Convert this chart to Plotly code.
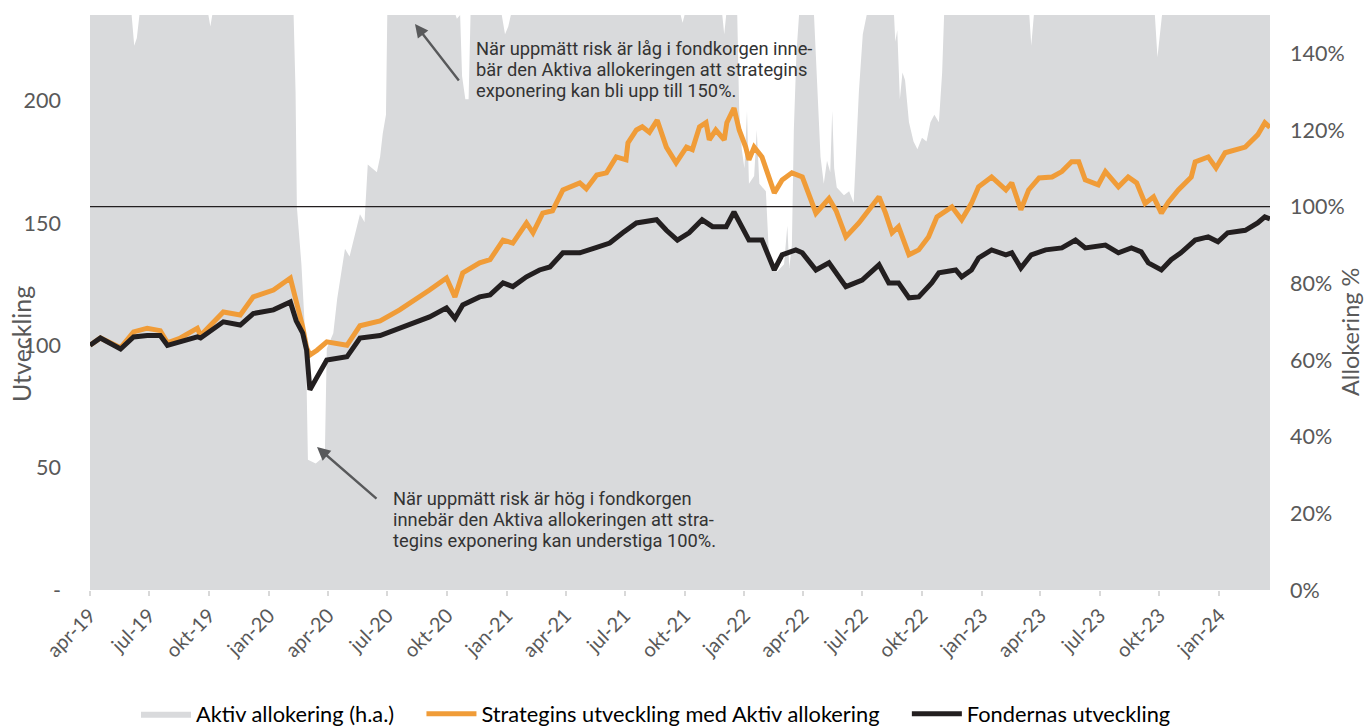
import plotly.graph_objects as go

# ---------------- DATA ----------------
strat_dates = ["2019-04-01","2019-04-17","2019-05-18","2019-06-07","2019-06-28","2019-07-18","2019-07-29","2019-08-18",
"2019-09-13","2019-09-18","2019-10-23","2019-11-18","2019-12-08","2020-01-08","2020-02-03","2020-02-12","2020-02-22",
"2020-02-28","2020-03-04","2020-03-15","2020-03-30","2020-04-30","2020-05-20","2020-06-20","2020-07-20","2020-09-04",
"2020-09-30","2020-10-13","2020-10-25","2020-11-20","2020-12-06","2020-12-26","2021-01-10","2021-01-31","2021-02-10",
"2021-02-25","2021-03-12","2021-03-28","2021-04-23","2021-05-03","2021-05-19","2021-06-03","2021-06-18","2021-07-03",
"2021-07-06","2021-07-19","2021-07-28","2021-08-08","2021-08-20","2021-09-03","2021-09-18","2021-10-04","2021-10-13",
"2021-10-24","2021-11-03","2021-11-08","2021-11-18","2021-12-01","2021-12-05","2021-12-16","2021-12-24","2022-01-03",
"2022-01-08","2022-01-16","2022-01-28","2022-02-16","2022-02-28","2022-03-15","2022-03-31","2022-04-21","2022-05-11",
"2022-05-22","2022-06-06","2022-06-26","2022-07-27","2022-08-06","2022-08-16","2022-08-26","2022-09-11","2022-09-26",
"2022-10-11","2022-10-24","2022-11-16","2022-12-01","2022-12-16","2022-12-27","2023-01-16","2023-02-07","2023-02-16",
"2023-03-02","2023-03-14","2023-03-30","2023-04-19","2023-05-04","2023-05-19","2023-05-30","2023-06-09","2023-06-29",
"2023-07-10","2023-07-30","2023-08-14","2023-08-27","2023-09-09","2023-09-22","2023-10-04","2023-10-15","2023-10-30",
"2023-11-19","2023-11-25","2023-12-15","2023-12-27","2024-01-10","2024-02-10","2024-02-29","2024-03-11","2024-03-19"]
strat_values = [100,103,99,105.5,107,106,101,103,
107,104,113.6,112.4,119.8,122.6,127.5,118.5,107.5,
99,96,98,101.4,100,108,110,114.5,122.6,
127.5,119.8,129.6,133.7,135,143,141.8,150,146,
154,155,163.5,166.4,164,169.6,170.5,177,175.8,
182.7,188,189.3,187,192,181,174.6,181,180,
189.3,191,184,188,184,191,197,188,181,
175.8,181,177,162.3,167.6,170.5,168.8,154,160,
155,144.3,150,160.7,154,146,148.5,137,139,
144.3,152.5,156.6,151.3,158,164.8,168.8,163.5,166.4,
155.4,163.5,168.4,168.8,171,175,175,167.6,165.6,
171,164.8,168.8,166.4,158,160.7,154,158.6,163.5,
168.8,175,177,172.5,178.7,181,186,191,189]

fund_dates = ["2019-04-01","2019-04-17","2019-05-18","2019-06-07","2019-06-28","2019-07-18","2019-07-29","2019-08-18",
"2019-09-13","2019-09-18","2019-10-23","2019-11-18","2019-12-08","2020-01-08","2020-02-03","2020-02-12","2020-02-22",
"2020-02-28","2020-03-04","2020-03-15","2020-03-30","2020-04-30","2020-05-20","2020-06-20","2020-07-20","2020-09-04",
"2020-09-30","2020-10-13","2020-10-25","2020-11-20","2020-12-06","2020-12-26","2021-01-10","2021-01-31","2021-02-20",
"2021-03-08","2021-03-28","2021-04-23","2021-05-19","2021-06-08","2021-06-28","2021-07-19","2021-08-19","2021-09-03",
"2021-09-20","2021-10-08","2021-10-28","2021-11-13","2021-12-04","2021-12-16","2021-12-28","2022-01-08","2022-01-28",
"2022-02-09","2022-02-16","2022-02-28","2022-03-21","2022-03-31","2022-04-21","2022-05-11","2022-06-06","2022-07-01",
"2022-07-27","2022-08-11","2022-08-26","2022-09-11","2022-09-26","2022-10-16","2022-10-27","2022-11-22","2022-12-01",
"2022-12-16","2022-12-27","2023-01-16","2023-02-07","2023-02-16","2023-03-02","2023-03-18","2023-04-09","2023-05-04",
"2023-05-25","2023-06-09","2023-07-10","2023-07-30","2023-08-19","2023-09-03","2023-09-14","2023-10-04","2023-10-19",
"2023-11-03","2023-11-25","2023-12-15","2023-12-30","2024-01-14","2024-02-10","2024-02-29","2024-03-11","2024-03-19"]
fund_values = [100,103,98.5,103.4,104,104,100,101.4,
103.5,103,109.6,108.3,113,114.5,117.7,110,105,
98,81.8,87,94,95.3,103,104,107,111.6,
115.3,111,116.5,119.8,120.6,125.5,124,128,130.8,
132,137.8,137.8,140,141.8,146,150,151.3,147,
143,146,151.3,148.5,148.5,154.5,148.5,143,143,
136,130.8,137,139,137.8,130.8,133.7,124,126.7,
132.9,125.5,125.5,119.4,119.8,125.5,129.6,130.8,128,
130.8,135.7,139,137,137.8,131.6,137,139,139.8,
143,139.8,141,137.8,139.8,138.2,133.7,130.8,135,
137.8,143,144.3,142.3,146,147,150,152.5,151.7]

alloc_dates = ["2019-04-01","2019-06-04","2019-06-08","2019-06-12","2019-06-16","2019-09-30","2019-10-03","2019-10-06",
"2020-02-08","2020-02-11","2020-02-13","2020-02-20","2020-02-27","2020-03-01","2020-03-13","2020-03-27","2020-03-30",
"2020-04-09","2020-04-15","2020-04-27","2020-05-04","2020-05-20","2020-05-27","2020-06-01","2020-06-15","2020-06-20",
"2020-06-24","2020-06-29","2020-07-01","2020-10-14","2020-10-16","2020-10-21","2020-10-24","2020-10-29","2020-11-03",
"2020-11-06","2020-12-24","2020-12-29","2021-01-03","2021-01-07","2021-09-25","2021-09-28","2021-10-01","2021-11-28",
"2021-12-01","2021-12-04","2021-12-21","2021-12-24","2021-12-28","2022-01-01","2022-01-05","2022-01-08","2022-01-16",
"2022-01-20","2022-01-24","2022-02-03","2022-02-07","2022-02-11","2022-02-20","2022-03-03","2022-03-08","2022-03-11",
"2022-03-15","2022-03-18","2022-03-22","2022-03-26","2022-04-18","2022-04-22","2022-04-28","2022-05-03","2022-05-08",
"2022-05-13","2022-05-16","2022-05-19","2022-05-23","2022-06-03","2022-06-11","2022-06-18","2022-06-22","2022-06-26",
"2022-07-02","2022-07-08","2022-08-19","2022-08-21","2022-08-24","2022-08-28","2022-09-01","2022-09-05","2022-09-11",
"2022-09-18","2022-09-24","2022-10-01","2022-10-08","2022-10-14","2022-10-20","2022-10-27","2022-11-01","2022-11-04",
"2023-03-15","2023-03-18","2023-03-22","2023-09-24","2023-09-28","2023-10-02","2023-10-05","2024-03-19"]
alloc_values = [150,150,142,144,150,150,147,150,
150,130,100,85,63,34,33,35,63,
67,76,89,87,98,96,111,109,113,
119,124,150,150,149,150,134,128,128,
150,150,145,147,150,150,148,150,150,
145,150,150,125,115,110,125,106,108,
120,106,104,90,84,83,85,95,84,
90,120,140,150,150,135,113,106,112,
109,125,110,105,103,104,101,115,130,
145,150,150,143,146,128,135,133,122,
117,115,118,117,122,124,122,135,150,
150,142,150,150,139,145,150,150]

ref_level = 100  # 100 % allocation reference line

xtick_vals = ["2019-04-01","2019-07-01","2019-10-01","2020-01-01","2020-04-01","2020-07-01","2020-10-01",
"2021-01-01","2021-04-01","2021-07-01","2021-10-01","2022-01-01","2022-04-01","2022-07-01","2022-10-01",
"2023-01-01","2023-04-01","2023-07-01","2023-10-01","2024-01-01"]
xtick_text = ["apr-19","jul-19","okt-19","jan-20","apr-20","jul-20","okt-20","jan-21","apr-21","jul-21","okt-21",
"jan-22","apr-22","jul-22","okt-22","jan-23","apr-23","jul-23","okt-23","jan-24"]
left_tick_vals = [0, 50, 100, 150, 200]
left_tick_text = ["-", "50", "100", "150", "200"]
right_tick_vals = [0, 20, 40, 60, 80, 100, 120, 140]
right_tick_text = ["0%", "20%", "40%", "60%", "80%", "100%", "120%", "140%"]

left_title = "Utveckling"
right_title = "Allokering %"
series_names = ["Aktiv allokering (h.a.)",
                "Strategins utveckling med Aktiv allokering",
                "Fondernas utveckling"]
note_high = ["När uppmätt risk är låg i fondkorgen inne-",
             "bär den Aktiva allokeringen att strategins",
             "exponering kan bli upp till 150%."]
note_low = ["När uppmätt risk är hög i fondkorgen",
            "innebär den Aktiva allokeringen att stra-",
            "tegins exponering kan understiga 100%."]

# ---------------- FIGURE ----------------
GRAY_FILL = "#d9dadc"
ORANGE = "#f09c38"
BLACK = "#231f20"
TICK_GRAY = "#595959"
FONT = "Lato"
ANN_FONT = "Roboto"
GAP = "\u00a0" * 4

fig = go.Figure()

fig.add_trace(go.Scatter(
    x=alloc_dates, y=alloc_values, yaxis="y", mode="lines",
    line=dict(width=0, color=GRAY_FILL), fill="tozeroy", fillcolor=GRAY_FILL,
    name=series_names[0] + GAP, hoverinfo="skip"))

fig.add_trace(go.Scatter(
    x=[strat_dates[0], strat_dates[-1]], y=[ref_level, ref_level], yaxis="y", mode="lines",
    line=dict(width=1.2, color=BLACK), showlegend=False, hoverinfo="skip"))

fig.add_trace(go.Scatter(
    x=strat_dates, y=strat_values, yaxis="y2", mode="lines",
    line=dict(width=5, color=ORANGE), name=series_names[1] + GAP))

fig.add_trace(go.Scatter(
    x=fund_dates, y=fund_values, yaxis="y2", mode="lines",
    line=dict(width=5, color=BLACK), name=series_names[2]))

L, R, T, B = 90, 96, 15, 136
W, H = 1366, 726
PW, PH = W - L - R, H - T - B

def px(x):
    return (x - L) / PW

def py(y):
    return (T + PH - y) / PH

fig.update_layout(
    width=W, height=H,
    margin=dict(l=L, r=R, t=T, b=B, pad=0, autoexpand=False),
    paper_bgcolor="white", plot_bgcolor="white",
    font=dict(family=FONT, color=TICK_GRAY),
    showlegend=True,
    legend=dict(orientation="h", x=px(656), xanchor="center", y=py(714), yanchor="middle",
                font=dict(family=FONT, size=21.8, color="#000000"), itemwidth=50,
                bgcolor="rgba(0,0,0,0)", traceorder="normal"),
    xaxis=dict(type="date", range=["2019-04-01", "2024-03-19"], automargin=False,
               tickvals=xtick_vals, ticktext=xtick_text, tickangle=-45,
               tickfont=dict(family=FONT, size=20, color=TICK_GRAY),
               ticks="outside", ticklen=5, tickcolor="#d9d9d9", tickwidth=1.5,
               showgrid=False, zeroline=False, showline=False),
    yaxis=dict(range=[0, 150], side="right", tickvals=right_tick_vals, ticktext=right_tick_text,
               automargin=False,
               tickfont=dict(family=FONT, size=21.5, color=TICK_GRAY),
               ticklabelstandoff=19,
               showgrid=False, zeroline=False, showline=False, ticks=""),
    yaxis2=dict(range=[0, 235], side="left", overlaying="y", tickvals=left_tick_vals, ticktext=left_tick_text,
                automargin=False,
                tickfont=dict(family=FONT, size=21.5, color=TICK_GRAY),
                ticklabelstandoff=28,
                showgrid=False, zeroline=False, showline=False, ticks=""),
)

# axis titles
fig.add_annotation(xref="paper", yref="paper", x=px(21), y=py(344), xanchor="center", yanchor="middle",
                   textangle=-90, showarrow=False, font=dict(family=FONT, size=25, color=TICK_GRAY),
                   text=left_title)
fig.add_annotation(xref="paper", yref="paper", x=px(1350), y=py(332), xanchor="center", yanchor="middle",
                   textangle=-90, showarrow=False, font=dict(family=FONT, size=23.5, color=TICK_GRAY),
                   text=right_title)

ann_font = dict(family=ANN_FONT, size=18.3, color="#333333")
for i, line in enumerate(note_high):
    fig.add_annotation(xref="paper", yref="paper", x=px(474), y=py(48 + 21 * i), xanchor="left",
                       yanchor="middle", align="left", showarrow=False, font=ann_font, text=line)
for i, line in enumerate(note_low):
    fig.add_annotation(xref="paper", yref="paper", x=px(391), y=py(498 + 21 * i), xanchor="left",
                       yanchor="middle", align="left", showarrow=False, font=ann_font, text=line)

arrow = dict(showarrow=True, arrowhead=2, arrowsize=1.1, arrowwidth=2.4, arrowcolor="#58595b",
             text="", xref="paper", yref="paper", standoff=0, startstandoff=0)
fig.add_annotation(x=px(415), y=py(24), ax=460 - 415, ay=82 - 24, **arrow)
fig.add_annotation(x=px(317), y=py(447), ax=378 - 317, ay=500 - 447, **arrow)

fig.write_html("out.html", config={"displayModeBar": False},
               post_script="document.body.style.margin='0';document.body.style.overflow='hidden';")
